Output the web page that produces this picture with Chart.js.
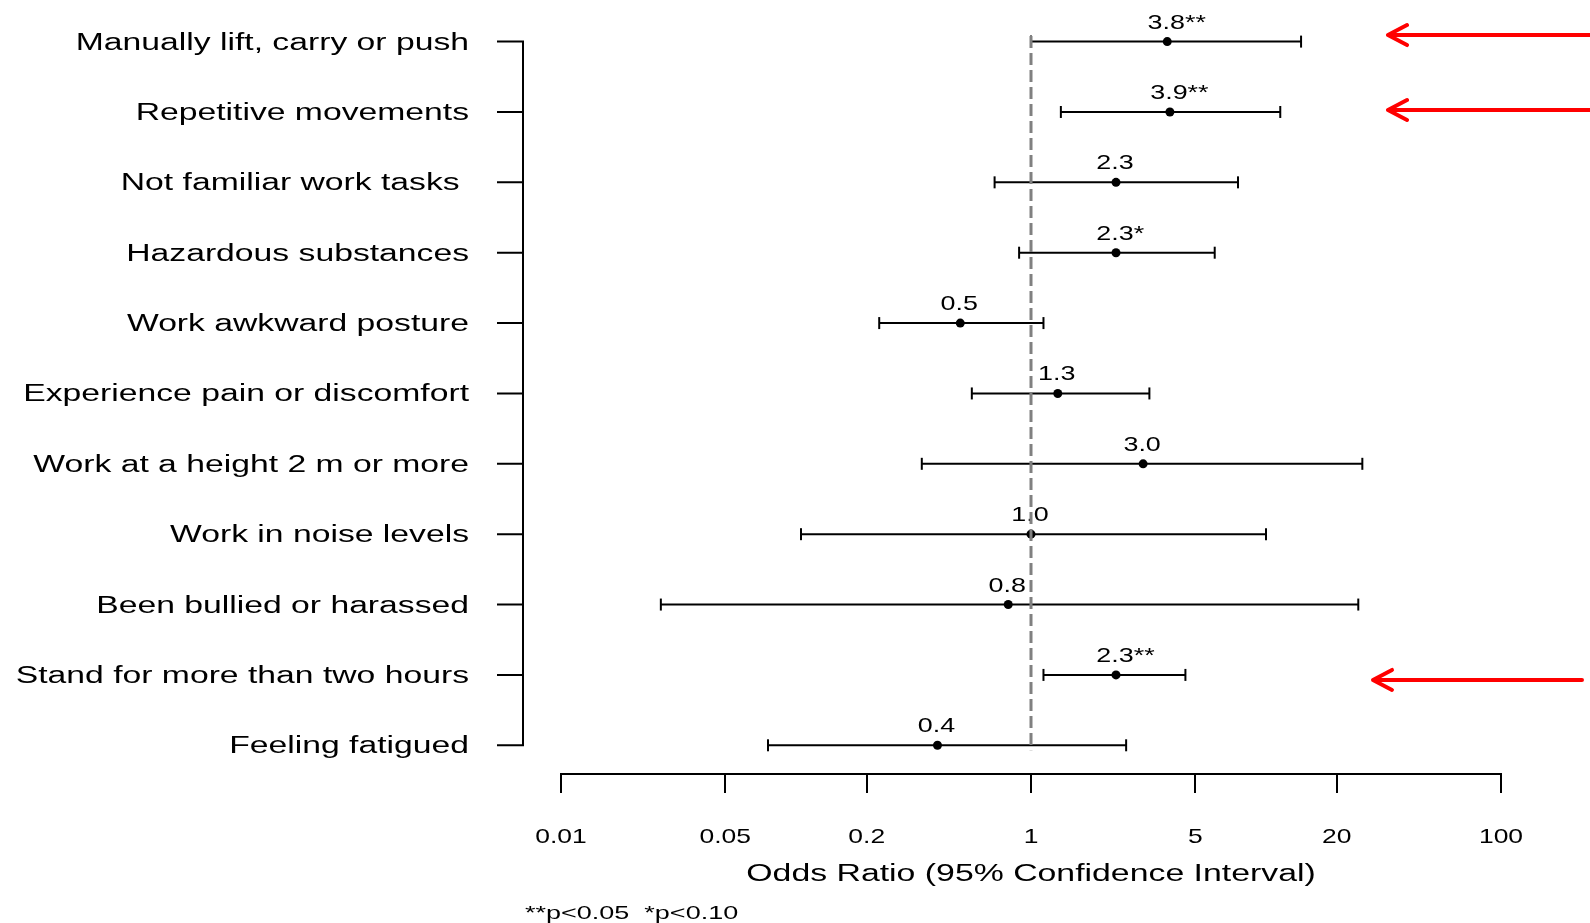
<!DOCTYPE html>
<html>
<head>
<meta charset="utf-8">
<title>Odds Ratio forest plot</title>
<script src="https://cdn.jsdelivr.net/npm/chart.js@4.4.1/dist/chart.umd.min.js"></script>
<style>
  html, body { margin: 0; padding: 0; background: #ffffff; }
  #wrap { width: 1590px; height: 923px; }
  canvas { display: block; }
</style>
</head>
<body>
<div id="wrap"><canvas id="forest" width="1590" height="923"></canvas></div>
<script>
// Risk factors, top to bottom
const categories = [
  'Manually lift, carry or push',
  'Repetitive movements',
  'Not familiar work tasks ',
  'Hazardous substances',
  'Work awkward posture',
  'Experience pain or discomfort',
  'Work at a height 2 m or more',
  'Work in noise levels',
  'Been bullied or harassed',
  'Stand for more than two hours',
  'Feeling fatigued'
];

// Odds ratios with 95% confidence limits
const oddsRatio = [3.8, 3.9, 2.3, 2.3, 0.5, 1.3, 3.0, 1.0, 0.8, 2.3, 0.4];
const ciLower   = [1.0, 1.34, 0.70, 0.89, 0.226, 0.56, 0.343, 0.105, 0.0266, 1.13, 0.076];
const ciUpper   = [14.1, 11.5, 7.6, 6.05, 1.13, 3.19, 25.7, 10.0, 24.7, 4.54, 2.54];

// Significance markers: ** p<0.05, * p<0.10
const significance = ['**', '**', '', '*', '', '', '', '', '', '**', ''];

// Rows flagged with an arrow
const flaggedRows = [0, 1, 9];

// Axis ticks
const xTickValues = [0.01, 0.05, 0.2, 1, 5, 20, 100];
const xTickLabels = ['0.01', '0.05', '0.2', '1', '5', '20', '100'];

const referenceOR = 1;
const axisTitle = 'Odds Ratio (95% Confidence Interval)';
const footnote = '**p<0.05  *p<0.10';

const FONT = '"Liberation Sans", Arial, Helvetica, sans-serif';

// Horizontally stretched text helper
function stretchedText(ctx, text, x, y, size, sx, align) {
  ctx.save();
  ctx.font = size + 'px ' + FONT;
  ctx.fillStyle = '#000000';
  ctx.textBaseline = 'alphabetic';
  ctx.textAlign = align;
  ctx.translate(x, y);
  ctx.scale(sx, 1);
  ctx.fillText(text, 0, 0);
  ctx.restore();
}

const decorations = {
  id: 'forestDecorations',
  beforeDatasetsDraw(chart) {
    const ctx = chart.ctx;
    const xs = chart.scales.x, ys = chart.scales.y;
    // Estimate labels above each point; number centred on the point
    oddsRatio.forEach((v, i) => {
      const num = v.toFixed(1);
      const px = xs.getPixelForValue(v);
      const py = ys.getPixelForValue(i) - 13;
      ctx.save();
      ctx.font = '21px ' + FONT;
      const w = ctx.measureText(num).width * 1.28;
      ctx.restore();
      stretchedText(ctx, num + significance[i], px - w / 2 - 1, py, 21, 1.28, 'left');
    });
  },
  afterDraw(chart) {
    const ctx = chart.ctx;
    const xs = chart.scales.x, ys = chart.scales.y;
    const area = chart.chartArea;

    // Left bracket axis with category ticks
    const axisX = area.left - 38;
    const yTop = ys.getPixelForValue(0);
    const yBot = ys.getPixelForValue(categories.length - 1);
    ctx.save();
    ctx.strokeStyle = '#000000';
    ctx.lineWidth = 2;
    ctx.beginPath();
    ctx.moveTo(axisX, yTop);
    ctx.lineTo(axisX, yBot);
    categories.forEach((c, i) => {
      const y = ys.getPixelForValue(i);
      ctx.moveTo(axisX - 26, y);
      ctx.lineTo(axisX + 1, y);
    });
    ctx.stroke();
    ctx.restore();

    categories.forEach((c, i) => {
      stretchedText(ctx, c, axisX - 54, ys.getPixelForValue(i) + 8, 23, 1.465, 'right');
    });

    // X tick labels
    xTickValues.forEach((v, i) => {
      stretchedText(ctx, xTickLabels[i], xs.getPixelForValue(v), area.bottom + 69, 21, 1.26, 'center');
    });

    // Axis title
    stretchedText(ctx, axisTitle, (area.left + area.right) / 2, area.bottom + 107, 23, 1.47, 'center');

    // Footnote
    stretchedText(ctx, footnote, area.left - 36, area.bottom + 145, 18, 1.5, 'left');

    // Red arrows pointing at flagged rows
    const arrowOffsets = [-6.5, -2, 5];
    const arrowTips = [1388, 1388, 1373];
    const arrowEnds = [1592, 1592, 1582];
    ctx.save();
    ctx.strokeStyle = '#ff0000';
    ctx.lineWidth = 4;
    ctx.lineCap = 'round';
    ctx.lineJoin = 'round';
    flaggedRows.forEach((r, k) => {
      const y = ys.getPixelForValue(r) + arrowOffsets[k];
      const tx = arrowTips[k];
      ctx.beginPath();
      ctx.moveTo(arrowEnds[k], y);
      ctx.lineTo(tx, y);
      ctx.moveTo(tx + 19, y - 10);
      ctx.lineTo(tx, y);
      ctx.lineTo(tx + 19, y + 10);
      ctx.stroke();
    });
    ctx.restore();
  }
};

// Datasets: reference line (on top), points, then one whisker line per row
const datasets = [];
datasets.push({
  label: 'reference',
  data: [{ x: referenceOR, y: -0.08 }, { x: referenceOR, y: categories.length - 1 + 0.07 }],
  showLine: true,
  borderColor: '#808080',
  borderWidth: 3,
  borderDash: [12, 5],
  pointRadius: 0
});
datasets.push({
  label: 'Odds ratio',
  data: oddsRatio.map((v, i) => ({ x: v, y: i })),
  backgroundColor: '#000000',
  borderColor: '#000000',
  pointRadius: 4.5,
  pointBorderWidth: 0,
  showLine: false
});
categories.forEach((c, i) => {
  datasets.push({
    label: c,
    data: [{ x: ciLower[i], y: i }, { x: ciUpper[i], y: i }],
    showLine: true,
    borderColor: '#000000',
    borderWidth: 2,
    pointStyle: 'line',
    rotation: 90,
    pointRadius: 6,
    pointBorderWidth: 2,
    pointBorderColor: '#000000'
  });
});

new Chart(document.getElementById('forest'), {
  type: 'scatter',
  data: { datasets },
  plugins: [decorations],
  options: {
    responsive: false,
    animation: false,
    devicePixelRatio: 1,
    layout: { padding: { left: 561, right: 89, top: 20, bottom: 130 } },
    plugins: { legend: { display: false }, tooltip: { enabled: false } },
    scales: {
      x: {
        type: 'logarithmic',
        position: 'bottom',
        min: xTickValues[0],
        max: xTickValues[xTickValues.length - 1],
        afterBuildTicks(scale) { scale.ticks = xTickValues.map(v => ({ value: v })); },
        ticks: { display: false },
        grid: {
          display: true,
          drawOnChartArea: false,
          drawTicks: true,
          tickLength: 19,
          color: '#000000',
          lineWidth: 2
        },
        border: { display: true, color: '#000000', width: 2 }
      },
      y: {
        type: 'linear',
        display: false,
        reverse: true,
        min: -0.307,
        max: 10.408
      }
    }
  }
});
</script>
</body>
</html>
